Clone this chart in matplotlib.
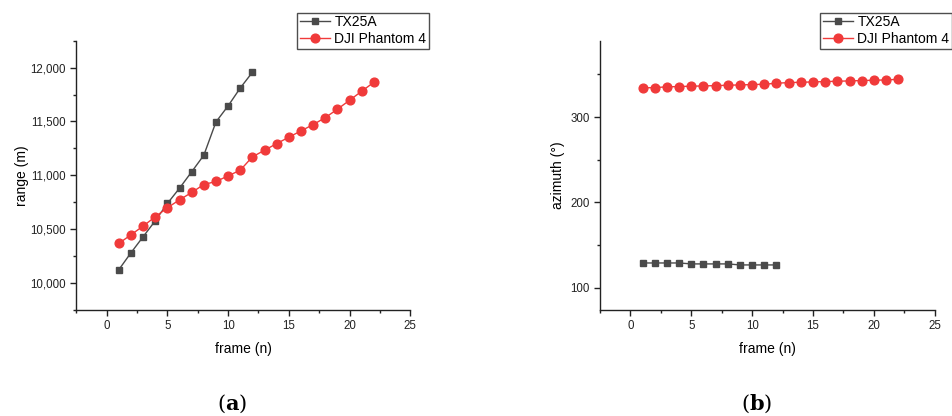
import matplotlib
matplotlib.use("Agg")
import matplotlib.pyplot as plt
from matplotlib.ticker import MultipleLocator, FuncFormatter

plt.rcParams['font.family'] = ['Liberation Sans', 'DejaVu Sans']

frames_tx = list(range(1, 13))
frames_dji = list(range(1, 23))

range_tx = [10124, 10281, 10430, 10578, 10739, 10881, 11033, 11187, 11496, 11645, 11811, 11957]
range_dji = [10368, 10448, 10529, 10615, 10699, 10773, 10841, 10915, 10943, 10995, 11048,
             11172, 11233, 11295, 11354, 11413, 11471, 11536, 11614, 11697, 11781, 11864]

az_tx = [129.1, 129.1, 129.1, 129.1, 128.0, 128.0, 128.0, 128.0, 126.8, 126.8, 126.8, 126.8]
az_dji = [334.2, 334.6, 335.4, 335.8, 336.2, 336.5, 336.9, 337.3, 337.7, 338.1, 338.5,
          339.7, 340.4, 340.8, 341.2, 341.6, 342.0, 342.4, 342.8, 343.2, 343.5, 344.3]

labels = ["TX25A", "DJI Phantom 4"]
xlabel = "frame (n)"
ylabels = ["range (m)", "azimuth (°)"]
panel_tags = ["a", "b"]

c_tx = "#4a4a4a"
c_dji = "#f03a3a"

W, H = 953, 416
fig = plt.figure(figsize=(W / 100, H / 100), dpi=100)

def fx(px):
    return px / W

def fy(py):
    return 1 - py / H

ax1 = fig.add_axes([fx(76.3), fy(310), fx(410.3) - fx(76.3), fy(40.7) - fy(310)])
ax2 = fig.add_axes([fx(600), fy(310), fx(934.7) - fx(600), fy(40.7) - fy(310)])

def style(ax):
    for s in ['top', 'right']:
        ax.spines[s].set_visible(False)
    for s in ['left', 'bottom']:
        ax.spines[s].set_linewidth(1.0)
        ax.spines[s].set_color('#222222')
    ax.tick_params(which='major', direction='out', length=4, width=1, labelsize=8.3, colors='#222222')
    ax.tick_params(which='minor', direction='out', length=2.5, width=1, colors='#222222')
    ax.set_xlim(-2.5, 25)
    ax.xaxis.set_major_locator(MultipleLocator(5))
    ax.xaxis.set_minor_locator(MultipleLocator(2.5))
    ax.set_xlabel(xlabel, fontsize=10, labelpad=7)

# Panel (a)
ax1.plot(frames_tx, range_tx, color=c_tx, lw=1, marker='s', ms=5, label=labels[0])
ax1.plot(frames_dji, range_dji, color=c_dji, lw=1, marker='o', ms=6.3, label=labels[1])
style(ax1)
ax1.set_ylim(9750, 12250)
ax1.yaxis.set_major_locator(MultipleLocator(500))
ax1.yaxis.set_minor_locator(MultipleLocator(250))
ax1.yaxis.set_major_formatter(FuncFormatter(lambda v, p: f"{int(v):,}"))
ax1.set_ylabel(ylabels[0], fontsize=10, labelpad=1)

# Panel (b)
ax2.plot(frames_tx, az_tx, color=c_tx, lw=1, marker='s', ms=5, label=labels[0])
ax2.plot(frames_dji, az_dji, color=c_dji, lw=1, marker='o', ms=6.3, label=labels[1])
style(ax2)
ax2.set_ylim(74, 389.5)
ax2.yaxis.set_major_locator(MultipleLocator(100))
ax2.yaxis.set_minor_locator(MultipleLocator(50))
ax2.set_ylabel(ylabels[1], fontsize=10, labelpad=4)

for ax, x0 in [(ax1, 297), (ax2, 820)]:
    leg = ax.legend(loc='upper left', bbox_to_anchor=(fx(x0), fy(12.5)),
                    bbox_transform=fig.transFigure, fontsize=10, frameon=True,
                    fancybox=False, borderpad=0.2, handlelength=2.2,
                    handletextpad=0.3, labelspacing=0.2, borderaxespad=0)
    leg.get_frame().set_edgecolor('#222222')
    leg.get_frame().set_linewidth(1.0)

for tag, xc in zip(panel_tags, [232, 757]):
    fig.text(fx(xc), fy(404), r"($\mathbf{" + tag + r"}$)", ha='center', va='center',
             fontsize=15, family='DejaVu Serif', math_fontfamily='dejavuserif')

fig.savefig("out.png", dpi=100)
